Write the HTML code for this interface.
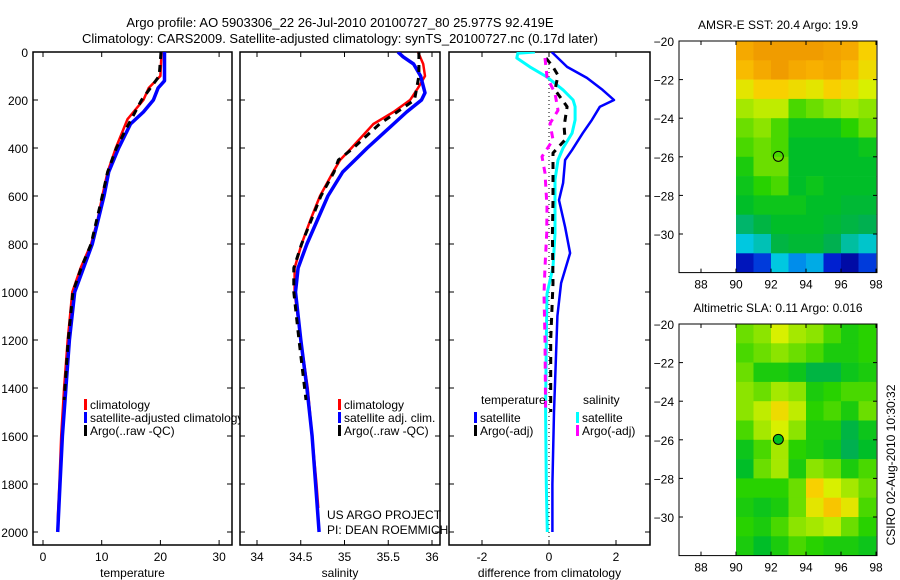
<!DOCTYPE html>
<html><head><meta charset="utf-8"><style>
html,body{margin:0;padding:0;background:#fff;}
svg{display:block;font-family:"Liberation Sans",sans-serif;}
</style></head><body>
<svg id="fig" width="900" height="580" viewBox="0 0 900 580">
<defs>
<clipPath id="c1"><rect x="33" y="52" width="207" height="493"/></clipPath>
<clipPath id="c2"><rect x="240" y="52" width="205" height="493"/></clipPath>
<clipPath id="c3"><rect x="449" y="52" width="201" height="493"/></clipPath>
</defs>
<text x="340" y="27" font-size="13" text-anchor="middle">Argo profile: AO 5903306_22 26-Jul-2010 20100727_80 25.977S 92.419E</text>
<text x="340" y="43" font-size="13" text-anchor="middle">Climatology: CARS2009. Satellite-adjusted climatology: synTS_20100727.nc (0.17d later)</text>
<g id="g1"></g>
<g id="g2"></g>
<g id="g3"></g>
<g id="m1"></g>
<g id="m2"></g>
<text transform="translate(895,465) rotate(-90)" font-size="12" text-anchor="middle">CSIRO 02-Aug-2010 10:30:32</text>
</svg>
<script>
// ---- data ----
const depthTicks=[0,200,400,600,800,1000,1200,1400,1600,1800,2000];
const tempTicks=[0,10,20,30];
const salTicks=[34,34.5,35,35.5,36];
const salTickLabels=["34","34.5","35","35.5","36"];
const diffTicks=[-2,0,2];
const tClimD=[0,100,150,200,280,400,500,600,700,800,900,1000,1200,1400,1600,1800,1950];
const tClimV=[20.2,20.0,18.0,17.1,14.4,12.4,11.0,10.1,9.3,8.2,6.4,5.0,4.2,3.6,3.1,2.8,2.5];
const tSatD=[0,120,150,200,250,300,400,500,600,800,900,1000,1200,1400,1600,1800,2000];
const tSatV=[20.7,20.7,19.6,18.8,17.1,14.9,12.9,11.2,10.4,8.4,6.9,5.4,4.5,3.9,3.3,2.9,2.5];
const tArgD=[0,100,200,300,400,500,600,800,900,1000,1200,1450];
const tArgV=[20.1,19.8,16.8,14.6,12.5,11.0,10.1,8.2,6.5,5.1,4.3,3.6];
const sClimD=[0,50,100,150,200,250,300,400,450,500,600,700,800,900,1000,1200,1400,1600,1800,1900];
const sClimV=[35.84,35.9,35.92,35.84,35.75,35.56,35.33,35.08,34.95,34.87,34.72,34.61,34.51,34.43,34.43,34.5,34.58,34.63,34.68,34.70];
const sSatD=[0,20,50,100,170,200,250,300,400,450,500,600,700,800,900,1000,1200,1400,1600,1800,2000];
const sSatV=[35.61,35.67,35.79,35.87,35.92,35.88,35.71,35.56,35.26,35.12,34.98,34.81,34.69,34.57,34.47,34.44,34.5,34.57,34.63,34.67,34.71];
const sArgD=[0,100,200,300,400,450,500,600,800,900,1000,1200,1450];
const sArgV=[35.85,35.85,35.8,35.4,35.1,34.93,34.88,34.73,34.51,34.42,34.42,34.48,34.56];
const dTSatD=[0,62,108,158,200,228,283,338,408,450,546,617,729,838,963,1100,1300,1500,1800,2000];
const dTSatV=[0.08,0.54,1.13,1.6,1.94,1.52,1.28,1.01,0.69,0.48,0.42,0.3,0.48,0.63,0.36,0.25,0.2,0.15,0.1,0.1];
const dSSatD=[0,5,25,62,104,158,200,228,283,338,400,450,533,617,757,896,1008,1200,1500,1800,2000];
const dSSatV=[-0.42,-0.93,-0.96,-0.57,-0.06,0.42,0.72,0.78,0.78,0.69,0.42,0.27,0.18,0.18,0.18,0.12,-0.06,-0.08,-0.1,-0.08,-0.05];
const dTArgD=[25,62,97,158,228,310,366,421,504,617,757,963,1200,1500];
const dTArgV=[-0.09,0.12,0.27,0.18,0.54,0.45,0.48,0.12,0.12,0.12,0.1,0.12,0.05,0.05];
const dSArgD=[25,104,172,243,298,366,436,504,646,757,896,1008,1200,1500];
const dSArgV=[-0.12,-0.06,0.18,0.27,0.03,0.12,-0.21,-0.12,-0.06,-0.07,-0.12,-0.15,-0.12,-0.1];
const mapLonTicks=[88,90,92,94,96,98];
const mapLatTicks=[-20,-22,-24,-26,-28,-30];
const sstGrid=[
[21.0,21.2,21.3,21.2,21.2,21.1,21.0,20.6],
[20.8,21.0,21.2,21.0,20.9,21.0,20.8,20.5],
[20.4,20.6,20.6,20.5,20.4,20.6,20.5,20.3],
[20.1,20.2,20.2,19.8,19.9,20.0,20.1,20.0],
[19.9,20.0,19.8,19.5,19.5,19.5,19.7,19.9],
[19.8,19.9,19.8,19.4,19.4,19.4,19.4,19.5],
[19.6,19.9,19.9,19.4,19.4,19.4,19.4,19.4],
[19.5,19.7,19.8,19.4,19.5,19.4,19.4,19.4],
[19.4,19.5,19.5,19.5,19.4,19.4,19.3,19.3],
[19.0,19.2,19.4,19.4,19.4,19.3,19.2,19.1],
[18.5,18.7,19.2,19.3,19.3,19.1,18.8,18.6],
[17.8,18.0,18.5,18.3,18.4,17.9,17.7,18.0]];
const slaGrid=[
[0.13,0.14,0.17,0.15,0.14,0.12,0.10,0.11],
[0.12,0.13,0.14,0.13,0.12,0.10,0.10,0.11],
[0.13,0.10,0.10,0.09,0.06,0.06,0.09,0.10],
[0.14,0.13,0.15,0.14,0.10,0.11,0.12,0.12],
[0.14,0.16,0.19,0.16,0.11,0.12,0.10,0.13],
[0.12,0.15,0.17,0.14,0.10,0.10,0.06,0.09],
[0.09,0.12,0.15,0.11,0.10,0.09,0.05,0.08],
[0.08,0.13,0.15,0.10,0.14,0.13,0.10,0.12],
[0.11,0.11,0.11,0.13,0.20,0.17,0.15,0.13],
[0.10,0.09,0.10,0.13,0.18,0.21,0.18,0.12],
[0.11,0.10,0.12,0.14,0.15,0.16,0.13,0.11],
[0.10,0.08,0.10,0.12,0.11,0.10,0.10,0.09]];
const argoLon=92.419, argoLat=-25.977;

// ---- helpers ----
const NS="http://www.w3.org/2000/svg";
function mk(parent,tag,attrs){const e=document.createElementNS(NS,tag);for(const k in attrs)e.setAttribute(k,attrs[k]);parent.appendChild(e);return e;}
const yD=d=>52+0.24*d;
const xT=t=>43+5.87*t;
const xS=s=>257+87.5*(s-34);
const xDf=v=>549+33.5*v;

function panel(g,x0,x1,ticks,labels,xf,title,leftLabels){
  let r=mk(g,'rect',{x:x0,y:52,width:x1-x0,height:493,fill:'none',stroke:'#000','stroke-width':1.5});
  
  depthTicks.forEach(d=>{
    mk(g,'line',{x1:x0,x2:x0+5,y1:yD(d),y2:yD(d),stroke:'#000'});
    mk(g,'line',{x1:x1-5,x2:x1,y1:yD(d),y2:yD(d),stroke:'#000'});
    if(leftLabels){const t=mk(g,'text',{x:x0-5,y:yD(d)+5,'font-size':12,'text-anchor':'end'});t.textContent=d;
      }
  });
  ticks.forEach((v,i)=>{
    mk(g,'line',{x1:xf(v),x2:xf(v),y1:545,y2:540,stroke:'#000'});
    mk(g,'line',{x1:xf(v),x2:xf(v),y1:52,y2:57,stroke:'#000'});
    const t=mk(g,'text',{x:xf(v),y:561,'font-size':12,'text-anchor':'middle'});t.textContent=labels[i];
    
  });
  const tt=mk(g,'text',{x:(x0+x1)/2,y:577,'font-size':12,'text-anchor':'middle'});tt.textContent=title;
  
}
function line(g,D,V,xf,color,w,dash,clip,name){
  const p=D.map((d,i)=>(i?'L':'M')+xf(V[i]).toFixed(1)+' '+yD(d).toFixed(1)).join('');
  const a={d:p,fill:'none',stroke:color,'stroke-width':w,'clip-path':'url(#'+clip+')','stroke-linejoin':'round'};
  if(dash)a['stroke-dasharray']=dash;
  const e=mk(g,'path',a);
  
  
}
function legend(g,x,y,color,label,clip){
  mk(g,'rect',{x:x,y:y-10,width:3,height:11,fill:color});
  const a={x:x+6,y:y,'font-size':12};if(clip)a['clip-path']='url(#'+clip+')';
  const t=mk(g,'text',a);t.textContent=label;
  
}
// ---- panel 1 ----
const g1=document.getElementById('g1');
panel(g1,33,232,tempTicks,tempTicks.map(String),xT,'temperature',true);
line(g1,tClimD,tClimV,xT,'#f00',2.5,null,'c1','temp-climatology-line');
line(g1,tSatD,tSatV,xT,'#00f',3.5,null,'c1','temp-satellite-line');
line(g1,tArgD,tArgV,xT,'#000',3,'7,6','c1','temp-argo-line');
legend(g1,84,409,'#f00','climatology','c1');
legend(g1,84,422,'#00f','satellite-adjusted climatology','c1');
legend(g1,84,435,'#000','Argo(..raw -QC)','c1');
// ---- panel 2 ----
const g2=document.getElementById('g2');
panel(g2,240,440,salTicks,salTickLabels,xS,'salinity',false);
line(g2,sClimD,sClimV,xS,'#f00',2.5,null,'c2','sal-climatology-line');
line(g2,sSatD,sSatV,xS,'#00f',3.5,null,'c2','sal-satellite-line');
line(g2,sArgD,sArgV,xS,'#000',3,'7,6','c2','sal-argo-line');
legend(g2,338,409,'#f00','climatology');
legend(g2,338,422,'#00f','satellite adj. clim.');
legend(g2,338,435,'#000','Argo(..raw -QC)');
let t=mk(g2,'text',{x:327,y:519,'font-size':12});t.textContent='US ARGO PROJECT';

t=mk(g2,'text',{x:327,y:534,'font-size':12});t.textContent='PI: DEAN ROEMMICH';

// ---- panel 3 ----
const g3=document.getElementById('g3');
panel(g3,449,650,diffTicks,diffTicks.map(String),xDf,'difference from climatology',false);
mk(g3,'line',{x1:xDf(0),x2:xDf(0),y1:52,y2:545,stroke:'#000','stroke-dasharray':'1,3'});
line(g3,dTSatD,dTSatV,xDf,'#00f',2.5,null,'c3','diff-temp-satellite-line');
line(g3,dSSatD,dSSatV,xDf,'#0ff',3,null,'c3','diff-sal-satellite-line');
line(g3,dTArgD,dTArgV,xDf,'#000',3,'7,6','c3','diff-temp-argo-line');
line(g3,dSArgD,dSArgV,xDf,'#f0f',3,'7,6','c3','diff-sal-argo-line');
t=mk(g3,'text',{x:481,y:404,'font-size':12});t.textContent='temperature';

t=mk(g3,'text',{x:583,y:404,'font-size':12});t.textContent='salinity';

legend(g3,474,422,'#00f','satellite');
legend(g3,474,435,'#000','Argo(-adj)');
legend(g3,576,422,'#0ff','satellite');
legend(g3,576,435,'#f0f','Argo(-adj)');
// ---- maps ----
const stops=[[17.6,[0,0,144]],[17.9,[0,32,208]],[18.2,[0,112,240]],[18.5,[0,200,224]],[18.8,[0,190,160]],[19.1,[0,176,80]],[19.4,[0,190,40]],[19.7,[40,210,0]],[20.0,[140,228,0]],[20.3,[216,240,0]],[20.6,[248,208,0]],[20.9,[248,176,0]],[21.2,[240,156,0]]];
function cmap(v){
  if(v<=stops[0][0])return 'rgb('+stops[0][1]+')';
  for(let i=1;i<stops.length;i++){if(v<=stops[i][0]){const f=(v-stops[i-1][0])/(stops[i][0]-stops[i-1][0]);
    const c=stops[i-1][1].map((a,k)=>Math.round(a+(stops[i][1][k]-a)*f));return 'rgb('+c+')';}}
  return 'rgb('+stops[stops.length-1][1]+')';
}
function map(g,y0,title,grid,conv,fillDot){
  const xL=lon=>736+17.5*(lon-90), yL=lat=>y0+19.3*(-20-lat);
  const tt=mk(g,'text',{x:778,y:y0-12,'font-size':12,'text-anchor':'middle'});tt.textContent=title;
  
  grid.forEach((row,r)=>row.forEach((v,c)=>{
    const e=mk(g,'rect',{x:xL(90+c),y:yL(-20-r),width:17.8,height:19.6,fill:cmap(conv(v))});
    
  }));
  const fr=mk(g,'rect',{x:679,y:y0,width:198,height:yL(-32)-y0,fill:'none',stroke:'#000'});
  
  mapLonTicks.forEach(l=>{mk(g,'line',{x1:xL(l),x2:xL(l),y1:yL(-32),y2:yL(-32)-4,stroke:'#000'});
    mk(g,'line',{x1:xL(l),x2:xL(l),y1:y0,y2:y0+4,stroke:'#000'});
    const t=mk(g,'text',{x:xL(l),y:yL(-32)+16,'font-size':12,'text-anchor':'middle'});t.textContent=l;
    });
  mapLatTicks.forEach(l=>{mk(g,'line',{x1:679,x2:683,y1:yL(l),y2:yL(l),stroke:'#000'});
    mk(g,'line',{x1:873,x2:877,y1:yL(l),y2:yL(l),stroke:'#000'});
    const t=mk(g,'text',{x:674,y:yL(l)+5,'font-size':12,'text-anchor':'end'});t.textContent=String(l).replace('-','\u2212');
    });
  const c=mk(g,'circle',{cx:xL(argoLon),cy:yL(argoLat),r:5,fill:fillDot,stroke:'#000','stroke-width':1});
  
}
map(document.getElementById('m1'),41,'AMSR-E SST: 20.4  Argo: 19.9',sstGrid,v=>v,'none');
map(document.getElementById('m2'),324,'Altimetric SLA: 0.11  Argo: 0.016',slaGrid,v=>19.1+(v-0.05)*10,'#00c020');
</script>
</body></html>
